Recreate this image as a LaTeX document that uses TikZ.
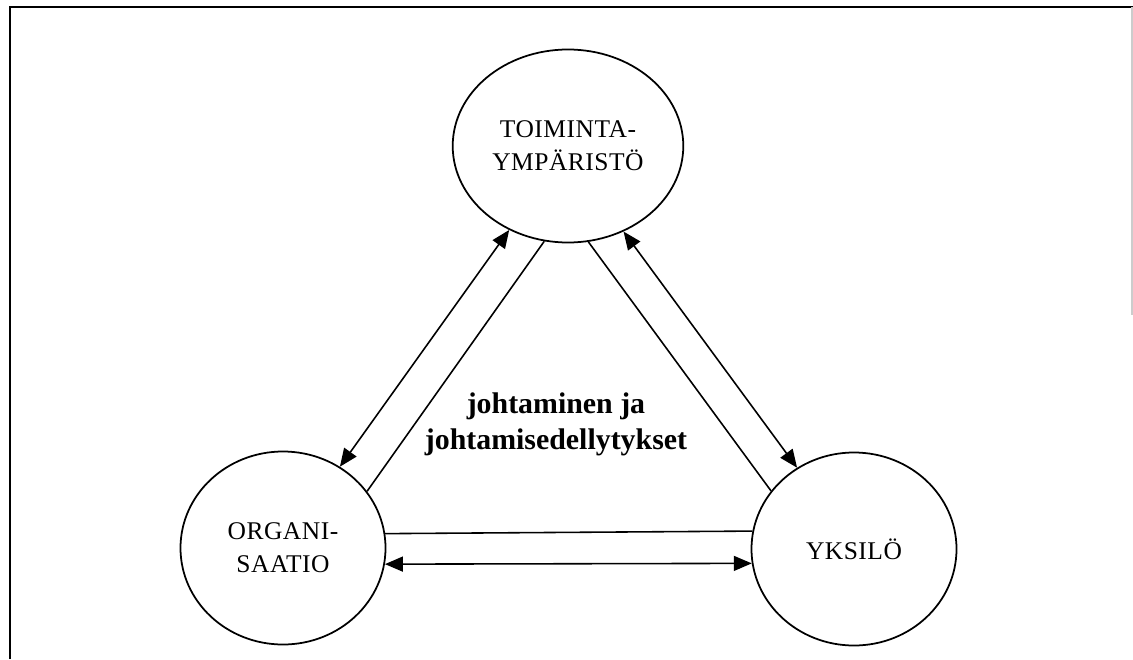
\documentclass[tikz,border=0pt]{standalone}
\usepackage{fontspec}
\setmainfont{Liberation Serif}
\newfontfamily\kehafont[LetterSpace=2]{Liberation Serif}
\usetikzlibrary{arrows.meta,shapes.geometric}
\begin{document}
\begin{tikzpicture}[scale=1,
	>={Triangle[length=3.6mm,width=3mm]},
	pallo/.style={draw, ellipse, line width=1pt, minimum width=4.1cm, minimum height=3.86cm,
		align=center, font=\kehafont\fontsize{14.5}{18.7}\selectfont},
	yhteys/.style={line width=0.9pt}]
	\useasboundingbox (0,0) rectangle (22.66,13.18);
	%	kehys
	\draw[line width=1.6pt] (0.2,0)--(0.2,13.04)--(22.66,13.04);
	\draw[gray!40, line width=0.8pt] (22.64,13.04)--(22.64,6.88);
	%	pallot
	\node[pallo] (ymp) at (11.36,10.26) {TOIMINTA-\\YMPÄRISTÖ};
	\node[pallo] (org) at (5.66,2.22) {ORGANI-\\SAATIO};
	\node[pallo] (yks) at (17.08,2.20) {YKSILÖ};
	\node[align=center, font=\fontsize{17}{20.5}\selectfont\bfseries] (joht) at (11.12,4.7)
		{johtaminen ja\\johtamisedellytykset};
	%	yhteydet
	\draw[yhteys,<->] (ymp.235.3)--(org.55.3);
	\draw[yhteys] (ymp.256.4)--(org.34.3);
	\draw[yhteys] (ymp.282.9)--(yks.145.8);
	\draw[yhteys,<->] (ymp.303.8)--(yks.125.1);
	\draw[yhteys] (org.8.9)--(yks.170.6);
	\draw[yhteys,<->] (org.351.3)--(yks.188.4);
\end{tikzpicture}
\end{document}
